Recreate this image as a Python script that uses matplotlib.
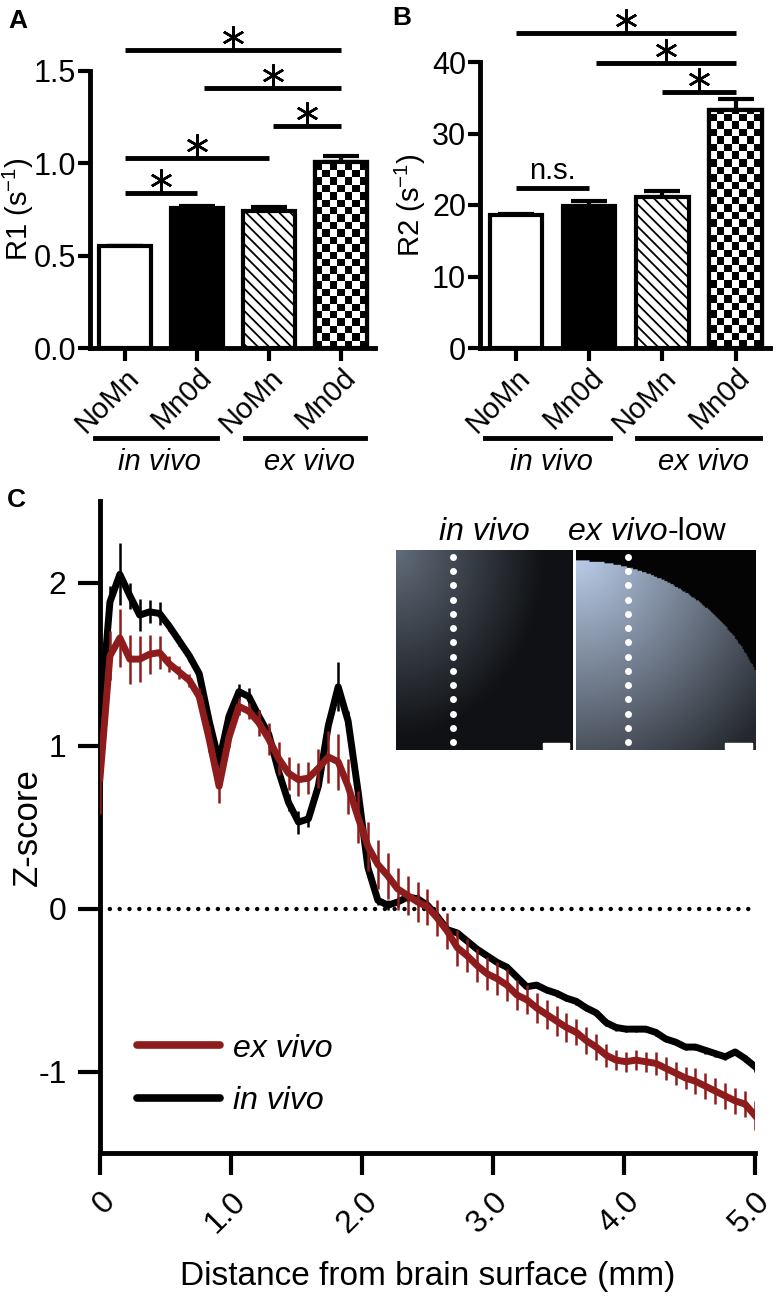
import numpy as np
import matplotlib
matplotlib.use('Agg')
import matplotlib.pyplot as plt
from matplotlib.lines import Line2D

plt.rcParams['font.family'] = ['Liberation Sans', 'DejaVu Sans']
plt.rcParams['hatch.linewidth'] = 1.3

# ---- panels A / B : relaxation rates ----
conditions = ['NoMn', 'Mn0d', 'NoMn', 'Mn0d']
groups = ['in vivo', 'ex vivo']
r1_mean = [0.55, 0.76, 0.74, 1.005]
r1_sem = [0.005, 0.01, 0.025, 0.035]
r2_mean = [18.6, 19.9, 21.1, 33.3]
r2_sem = [0.2, 0.6, 0.8, 1.5]
# significance brackets: (from bar, to bar, height, label)
r1_sig = [(0, 3, 1.616, '*'), (1.1, 3, 1.41, '*'), (2.05, 3, 1.20, '*'),
          (0, 2, 1.03, '*'), (0, 1, 0.838, '*')]
r2_sig = [(0, 3, 44.1, '*'), (1.1, 3, 39.8, '*'), (2.0, 3, 35.8, '*'),
          (0, 1, 22.4, 'n.s.')]

# ---- panel C : z-score profile vs depth ----
depth = np.linspace(0, 5.0, 67)
invivo_z = [1.14, 1.88, 2.05, 1.92, 1.80, 1.82, 1.81, 1.73, 1.64, 1.55,
            1.44, 1.15, 0.90, 1.18, 1.33, 1.30, 1.18, 1.07, 0.84, 0.65,
            0.53, 0.55, 0.75, 1.12, 1.36, 1.15, 0.72, 0.25, 0.05, 0.02,
            0.04, 0.07, 0.06, 0.02, -0.05, -0.13, -0.15, -0.20, -0.25, -0.29,
            -0.33, -0.36, -0.42, -0.48, -0.47, -0.50, -0.52, -0.55, -0.57, -0.61,
            -0.64, -0.70, -0.73, -0.74, -0.74, -0.74, -0.76, -0.80, -0.82, -0.85,
            -0.85, -0.87, -0.89, -0.91, -0.88, -0.92, -0.97]
invivo_err = [0.05, 0.10, 0.19, 0.08, 0.10, 0.07, 0.07, 0.03, 0.03, 0.03,
              0.03, 0.03, 0.04, 0.04, 0.05, 0.05, 0.04, 0.04, 0.04, 0.05,
              0.07, 0.05, 0.04, 0.05, 0.15, 0.06, 0.04, 0.03, 0.03, 0.03,
              0.03, 0.03, 0.03, 0.03, 0.03, 0.03, 0.02, 0.02, 0.02, 0.02,
              0.02, 0.02, 0.02, 0.02, 0.02, 0.02, 0.02, 0.02, 0.02, 0.02,
              0.02, 0.02, 0.02, 0.02, 0.02, 0.02, 0.02, 0.02, 0.02, 0.02,
              0.02, 0.02, 0.02, 0.02, 0.02, 0.02, 0.03]
exvivo_z = [0.80, 1.55, 1.66, 1.53, 1.53, 1.56, 1.57, 1.50, 1.45, 1.40,
            1.30, 1.04, 0.75, 1.05, 1.24, 1.21, 1.14, 1.04, 0.92, 0.83,
            0.79, 0.80, 0.86, 0.93, 0.90, 0.75, 0.56, 0.38, 0.27, 0.20,
            0.12, 0.08, 0.04, 0.01, -0.06, -0.14, -0.24, -0.29, -0.35, -0.40,
            -0.43, -0.47, -0.53, -0.56, -0.61, -0.65, -0.69, -0.73, -0.76, -0.81,
            -0.85, -0.90, -0.93, -0.94, -0.93, -0.94, -0.95, -0.98, -1.01, -1.04,
            -1.06, -1.09, -1.12, -1.15, -1.18, -1.20, -1.27]
exvivo_err = [0.22, 0.15, 0.18, 0.15, 0.14, 0.12, 0.10, 0.05, 0.04, 0.04,
              0.05, 0.08, 0.10, 0.06, 0.05, 0.05, 0.08, 0.10, 0.10, 0.10,
              0.10, 0.10, 0.12, 0.16, 0.17, 0.17, 0.16, 0.15, 0.15, 0.14,
              0.13, 0.12, 0.12, 0.11, 0.11, 0.11, 0.11, 0.10, 0.10, 0.10,
              0.10, 0.10, 0.09, 0.09, 0.09, 0.09, 0.09, 0.09, 0.08, 0.08,
              0.08, 0.07, 0.06, 0.06, 0.06, 0.06, 0.07, 0.07, 0.07, 0.07,
              0.08, 0.08, 0.08, 0.08, 0.08, 0.08, 0.09]
z_ticks = [-1, 0, 1, 2]
depth_ticks = [0, 1, 2, 3, 4, 5]
depth_labels = ['0', '1.0', '2.0', '3.0', '4.0', '5.0']

RED = '#8e1c1c'
W, H = 781, 1300
fig = plt.figure(figsize=(W / 100, H / 100), dpi=100)


def px_axes(left, top, right, bottom):
    return fig.add_axes([left / W, 1 - bottom / H, (right - left) / W, (bottom - top) / H])


def bar_panel(ax, means, sems, sig, ylim, yticks, ylabel):
    x = np.arange(len(means))
    ax.set_xlim(-0.49, 3.47)
    ax.set_ylim(*ylim)
    bars = ax.bar(x, means, width=0.72, color=['white', 'black', 'white', 'white'],
                  edgecolor='black', linewidth=3, zorder=2)
    bars[2].set_hatch('\\\\\\')
    ax.errorbar(x, means, yerr=[np.zeros(len(means)), sems], fmt='none', ecolor='black',
                elinewidth=3, capsize=13, capthick=3, zorder=1)

    # checkerboard fill for the last bar
    b = bars[3]
    x0, w, h = b.get_x(), b.get_width(), b.get_height()
    (p0x, p0y), (p1x, p1y) = ax.transData.transform([(x0, 0), (x0 + w, h)])
    ncol = 7
    sq = (p1x - p0x) / ncol
    nrow = int(np.ceil((p1y - p0y) / sq))
    board = np.add.outer(np.arange(nrow), np.arange(ncol)) % 2
    im = ax.imshow(board, cmap='gray', extent=(x0, x0 + w, 0, nrow * sq * h / (p1y - p0y)),
                   aspect='auto', interpolation='nearest', origin='lower', zorder=2.5)
    im.set_clip_path(b)
    ax.bar([x[3]], [h], width=0.72, color='none', edgecolor='black', linewidth=3, zorder=3)
    ax.set_xlim(-0.49, 3.47)
    ax.set_ylim(*ylim)

    per_px = (ylim[1] - ylim[0]) / (ax.get_position().height * H)
    for a, bb, y, lab in sig:
        ax.plot([a, bb], [y, y], color='black', lw=3.5, solid_capstyle='butt', clip_on=False)
        if lab == '*':
            ax.plot((a + bb) / 2, y + 13 * per_px, marker=(6, 2, 0), ms=16, mew=1.8,
                    color='black', clip_on=False)
        else:
            ax.text((a + bb) / 2, y + 3 * per_px, lab, ha='center', va='bottom', fontsize=21)

    for (g0, g1, gc), gname in zip([(-0.42, 1.28, 0.48), (1.66, 3.33, 2.56)], groups):
        ax.plot([g0, g1], [-90 * per_px] * 2, color='black', lw=3.5, clip_on=False)
        ax.text(gc, -100 * per_px, gname, ha='center', va='top', fontsize=21, style='italic')

    ax.set_xticks(x)
    ax.set_xticklabels(conditions, fontsize=21)
    plt.setp(ax.get_xticklabels(), rotation=45, ha='right', va='top', rotation_mode='anchor')
    ax.set_yticks(yticks)
    ax.tick_params(axis='y', labelsize=22, length=9, width=3, pad=1)
    ax.tick_params(axis='x', length=9, width=3, pad=2)
    for s in ['top', 'right']:
        ax.spines[s].set_visible(False)
    for s in ['left', 'bottom']:
        ax.spines[s].set_linewidth(3.5)
    ax.set_ylabel(ylabel, fontsize=21)


axA = px_axes(90, 71, 375, 348)
bar_panel(axA, r1_mean, r1_sem, r1_sig, (0, 1.5), [0.0, 0.5, 1.0, 1.5], 'R1 (s$^{\\mathregular{-1}}$)')
axA.set_yticklabels(['0.0', '0.5', '1.0', '1.5'])
axA.yaxis.set_label_coords(-0.19, 0.5)

axB = px_axes(480, 62, 770, 348)
bar_panel(axB, r2_mean, r2_sem, r2_sig, (0, 40), [0, 10, 20, 30, 40], 'R2 (s$^{\\mathregular{-1}}$)')
axB.yaxis.set_label_coords(-0.18, 0.5)

# ---- panel C ----
axC = px_axes(100, 501, 755, 1153)
axC.axhline(0, color='black', lw=3.2, linestyle=(0, (0.01, 2.2)), dash_capstyle='round')
axC.errorbar(depth, invivo_z, yerr=invivo_err, color='black', lw=5, elinewidth=1.8,
             capsize=0, zorder=3)
axC.errorbar(depth, exvivo_z, yerr=exvivo_err, color=RED, lw=5, elinewidth=1.8,
             capsize=0, zorder=4)
axC.set_xlim(0, 5.0)
axC.set_ylim(-1.5, 2.5)
axC.set_xticks(depth_ticks)
axC.set_xticklabels(depth_labels, fontsize=23)
plt.setp(axC.get_xticklabels(), rotation=45, ha='right', va='top', rotation_mode='anchor')
axC.set_yticks(z_ticks)
axC.set_yticklabels(['-1', '0', '1', '2'], fontsize=23)
axC.tick_params(axis='both', length=16, width=3, pad=8)
for s in ['top', 'right']:
    axC.spines[s].set_visible(False)
for s in ['left', 'bottom']:
    axC.spines[s].set_linewidth(3.5)
axC.set_ylabel('Z-score', fontsize=25)
axC.yaxis.set_label_coords(-0.085, 0.5)
axC.set_xlabel('Distance from brain surface (mm)', fontsize=24)
axC.xaxis.set_label_coords(0.5, -0.165)
handles = [Line2D([], [], color=RED, lw=5.5, solid_capstyle='round'),
           Line2D([], [], color='black', lw=5.5, solid_capstyle='round')]
axC.legend(handles, ['ex vivo', 'in vivo'], loc='center left', bbox_to_anchor=(0.056, 0.12),
           frameon=False, borderpad=0, borderaxespad=0, handlelength=2.6, handletextpad=0.4,
           labelspacing=0.7, prop={'size': 23, 'style': 'italic'})

# ---- MRI inset placeholders ----
uu, vv = np.meshgrid(np.linspace(0, 1, 120), np.linspace(0, 1, 135))
tint = np.array([0.80, 0.88, 1.0])
img_l = (0.40 * np.clip(1 - 1.2 * np.hypot(uu, vv * 0.9), 0, 1) + 0.08)[..., None] * tint
inside = (uu / 1.1) ** 2 + ((1 - vv) / 0.95) ** 2 < 1
glow = 0.75 * np.clip(1 - 0.75 * np.hypot(uu, vv), 0, 1) + 0.18
img_r = np.where(inside, glow, 0.02)[..., None] * tint
for (l, r), img, dot_u in [((396, 573), img_l, 0.32), ((576, 756), img_r, 0.29)]:
    axi = px_axes(l, 550, r, 750)
    axi.imshow(np.clip(img, 0, 1), extent=(0, 1, 1, 0), aspect='auto')
    axi.plot([dot_u] * 14, np.linspace(0.035, 0.96, 14), 'o', color='white', ms=5, mec='none')
    axi.add_patch(plt.Rectangle((0.83, 0.965), 0.15, 0.03, color='white'))
    axi.set_xlim(0, 1)
    axi.set_ylim(1, 0)
    axi.axis('off')
fig.text(484 / W, 1 - 532 / H, 'in vivo', ha='center', va='center', fontsize=23, style='italic')
fig.text(667 / W, 1 - 532 / H, 'ex vivo', ha='right', va='center', fontsize=23, style='italic')
fig.text(668 / W, 1 - 532 / H, '-low', ha='left', va='center', fontsize=23)

# panel letters
for lab, x, y in [('A', 8, 28), ('B', 392, 25), ('C', 7, 507)]:
    fig.text(x / W, 1 - y / H, lab, fontsize=19, fontweight='bold', va='baseline')

fig.savefig('out.png', dpi=100)
